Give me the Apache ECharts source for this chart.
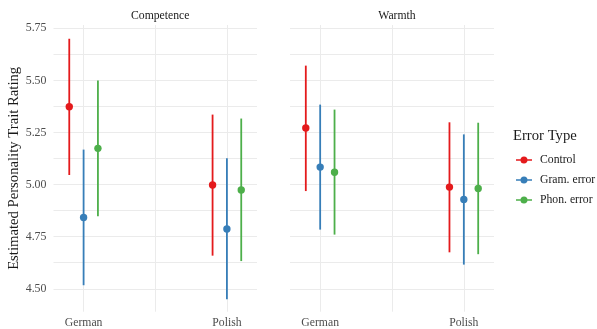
<!DOCTYPE html>
<html>
<head>
<meta charset="utf-8">
<script src="https://cdn.jsdelivr.net/npm/echarts@6/dist/echarts.min.js"></script>
<style>
  html, body { margin: 0; padding: 0; background: #ffffff; }
  #chart { width: 597px; height: 329px; }
</style>
</head>
<body>
<div id="chart"></div>
<script>
// Languages on the x axis, error types as coloured groups
const categories = ['German', 'Polish'];
const errorTypes = ['Control', 'Gram. error', 'Phon. error'];
const panels = ['Competence', 'Warmth'];

// Rows follow errorTypes, columns follow categories
const competenceEstimate = [[5.374, 4.998], [4.842, 4.787], [5.174, 4.974]];
const competenceLower    = [[5.046, 4.659], [4.517, 4.450], [4.848, 4.633]];
const competenceUpper    = [[5.700, 5.336], [5.168, 5.126], [5.500, 5.317]];

const warmthEstimate = [[5.272, 4.988], [5.084, 4.929], [5.059, 4.981]];
const warmthLower    = [[4.969, 4.675], [4.784, 4.616], [4.760, 4.666]];
const warmthUpper    = [[5.571, 5.299], [5.384, 5.241], [5.360, 5.297]];

const yMajorTicks = [4.50, 4.75, 5.00, 5.25, 5.50, 5.75];
const yGridValues = [4.500, 4.625, 4.750, 4.875, 5.000, 5.125, 5.250, 5.375, 5.500, 5.625, 5.750];
const xGridValues = [1, 1.5, 2];

const palette = ['#E41A1C', '#377EB8', '#4DAF4A'];
const dodge = [-0.1, 0, 0.1];
const serif = '"Liberation Serif", "DejaVu Serif", serif';

const panelData = [
  { est: competenceEstimate, lo: competenceLower, hi: competenceUpper },
  { est: warmthEstimate, lo: warmthLower, hi: warmthUpper }
];

const gridBox = [
  { left: 53.5, width: 203.5, top: 25, height: 286.7 },
  { left: 290, width: 204, top: 25, height: 286.7 }
];

const xAxes = gridBox.map((g, i) => ({
  type: 'value', gridIndex: i, min: 0.79, max: 2.21,
  axisLine: { show: false },
  axisTick: { show: false, customValues: xGridValues },
  axisLabel: {
    customValues: [1, 2],
    formatter: v => categories[Math.round(v) - 1],
    color: '#4d4d4d', fontFamily: serif, fontSize: 11.7, margin: 5
  },
  splitLine: { show: true, lineStyle: { color: '#ebebeb', width: 1 } }
}));

const yAxes = gridBox.map((g, i) => ({
  type: 'value', gridIndex: i, min: 4.39, max: 5.766,
  axisLine: { show: false },
  axisTick: { show: false, customValues: yGridValues },
  axisLabel: {
    show: i === 0,
    customValues: yMajorTicks,
    formatter: v => v.toFixed(2),
    color: '#4d4d4d', fontFamily: serif, fontSize: 11.9, margin: 7
  },
  splitLine: { show: true, lineStyle: { color: '#ebebeb', width: 1 } },
  name: i === 0 ? 'Estimated Personality Trait Rating' : '',
  nameLocation: 'middle',
  nameGap: 31,
  nameTextStyle: { color: '#1a1a1a', fontFamily: serif, fontSize: 14.7 }
}));

function renderRange(params, api) {
  const color = api.visual('color');
  const x = api.value(0);
  const pLo = api.coord([x, api.value(1)]);
  const pHi = api.coord([x, api.value(2)]);
  const pEst = api.coord([x, api.value(3)]);
  return {
    type: 'group',
    children: [
      { type: 'line', shape: { x1: pLo[0], y1: pLo[1], x2: pHi[0], y2: pHi[1] },
        style: { stroke: color, lineWidth: 1.8 } },
      { type: 'circle', shape: { cx: pEst[0], cy: pEst[1], r: 3.7 },
        style: { fill: color } }
    ]
  };
}

const series = [];
panelData.forEach((pd, p) => {
  errorTypes.forEach((name, t) => {
    series.push({
      type: 'custom',
      name: name,
      xAxisIndex: p,
      yAxisIndex: p,
      color: palette[t],
      itemStyle: { color: palette[t] },
      encode: { x: 0, y: [1, 2, 3] },
      data: categories.map((c, k) => [k + 1 + dodge[t], pd.lo[t][k], pd.hi[t][k], pd.est[t][k]]),
      renderItem: renderRange
    });
  });
});

const legendIcon = 'path://M0,2.8 L16,2.8 L16,4.2 L0,4.2 Z M8,0 A3.5,3.5 0 1 1 7.99,0 Z';
const titleFont = { color: '#1a1a1a', fontFamily: serif, fontSize: 11.7, fontWeight: 'normal' };

const option = {
  animation: false,
  backgroundColor: '#ffffff',
  grid: gridBox,
  xAxis: xAxes,
  yAxis: yAxes,
  title: [
    { text: panels[0], left: gridBox[0].left + gridBox[0].width / 2, top: 5, textAlign: 'center',
      textStyle: titleFont },
    { text: panels[1], left: gridBox[1].left + gridBox[1].width / 2, top: 5, textAlign: 'center',
      textStyle: titleFont },
    { text: 'Error Type', left: 508, top: 124,
      textStyle: { color: '#1a1a1a', fontFamily: serif, fontSize: 14.7, fontWeight: 'normal' } }
  ],
  legend: {
    data: errorTypes.map(n => ({ name: n, icon: legendIcon })),
    orient: 'vertical',
    left: 511,
    top: 149,
    itemWidth: 16,
    itemHeight: 7,
    itemGap: 8,
    selectedMode: false,
    textStyle: { color: '#1a1a1a', fontFamily: serif, fontSize: 11.7, padding: [0, 0, 0, 3] }
  },
  series: series
};

const chart = echarts.init(document.getElementById('chart'), null, { renderer: 'canvas' });
chart.setOption(option);
</script>
</body>
</html>
